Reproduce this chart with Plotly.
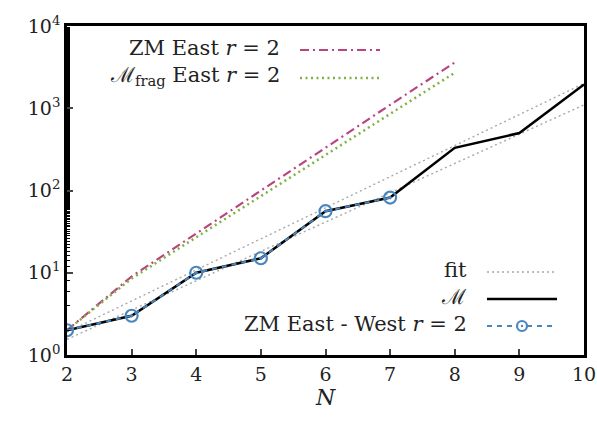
import plotly.graph_objects as go

N_all = [2, 3, 4, 5, 6, 7, 8, 9, 10]
N_east = [2, 3, 4, 5, 6, 7, 8]
N_ew = [2, 3, 4, 5, 6, 7]

zm_east = [2, 9, 30, 100, 330, 1100, 3600]
mfrag_east = [2, 8.5, 27, 85, 270, 860, 2700]
M_vals = [2, 3, 10, 15, 56, 82, 330, 500, 1950]
zm_ew = [2, 3, 10, 15, 56, 82]
fit_N = [2, 10]
fit_upper = [1.9, 2000]
fit_lower = [1.55, 1100]

y_tickvals = [1, 10, 100, 1000, 10000]
y_ticktext = ["10<sup>0</sup>", "10<sup>1</sup>", "10<sup>2</sup>", "10<sup>3</sup>", "10<sup>4</sup>"]
x_tickvals = [2, 3, 4, 5, 6, 7, 8, 9, 10]

MAG = "#b8457e"
GRN = "#7fb241"
BLU = "#4a86bd"
GRY = "#a8a8a8"
FONT = "DejaVu Serif"
FS = 21
TFS = 19

fig = go.Figure()
fig.add_trace(go.Scatter(x=fit_N, y=fit_upper, mode="lines",
                         line=dict(color=GRY, width=1.4, dash="2px,3px")))
fig.add_trace(go.Scatter(x=fit_N, y=fit_lower, mode="lines",
                         line=dict(color=GRY, width=1.4, dash="2px,3px")))
fig.add_trace(go.Scatter(x=N_east, y=zm_east, mode="lines",
                         line=dict(color=MAG, width=2.2, dash="9px,4px,2px,4px")))
fig.add_trace(go.Scatter(x=N_east, y=mfrag_east, mode="lines",
                         line=dict(color=GRN, width=2.5, dash="2px,3.5px")))
fig.add_trace(go.Scatter(x=N_all, y=M_vals, mode="lines",
                         line=dict(color="black", width=2.5)))
fig.add_trace(go.Scatter(x=N_ew, y=zm_ew, mode="lines+markers",
                         line=dict(color=BLU, width=2, dash="5px,5px"),
                         marker=dict(symbol="circle-open-dot", size=12,
                                     color=BLU, line=dict(width=2.2, color=BLU))))

W, H = 597, 424
ML, MR, MT, MB = 67, 13, 26, 69
PL, PR, PT, PB = ML, W - MR, MT, H - MB
def px(x):
    return (x - PL) / (PR - PL)
def py(y):
    return (PB - y) / (PB - PT)

ann = []
shapes = []
def entry(text, ytxt, x_right, x0, x1, dash, color, width):
    ann.append(dict(x=px(x_right), y=py(ytxt), xref="paper", yref="paper",
                    text=text, showarrow=False, xanchor="right", yanchor="middle",
                    font=dict(family=FONT, size=FS, color="#222")))
    shapes.append(dict(type="line", xref="paper", yref="paper",
                       x0=px(x0), x1=px(x1), y0=py(ytxt + 2), y1=py(ytxt + 2),
                       line=dict(color=color, width=width, dash=dash)))

entry("ZM East <i>r</i> = 2", 48, 282, 300, 380, "9px,4px,2px,4px", MAG, 2.2)
entry("ℳ<sub>frag</sub> East <i>r</i> = 2", 76, 282, 300, 380, "2px,3.5px", GRN, 2.5)
entry("fit", 270, 469, 487, 557, "2px,3px", GRY, 1.4)
entry("ℳ", 297, 469, 487, 557, "solid", "black", 2.5)
entry("ZM East - West <i>r</i> = 2", 324, 469, 487, 557, "5px,5px", BLU, 2)
cx, cy = 522, 326
shapes.append(dict(type="circle", xref="paper", yref="paper",
                   x0=px(cx - 5), x1=px(cx + 5), y0=py(cy + 5), y1=py(cy - 5),
                   fillcolor="white", line=dict(color=BLU, width=2.2)))
shapes.append(dict(type="circle", xref="paper", yref="paper",
                   x0=px(cx - 1.2), x1=px(cx + 1.2), y0=py(cy + 1.2), y1=py(cy - 1.2),
                   fillcolor=BLU, line=dict(color=BLU, width=0)))

fig.update_layout(
    width=W, height=H, autosize=False,
    margin=dict(l=ML, r=MR, t=MT, b=MB),
    plot_bgcolor="white", paper_bgcolor="white",
    showlegend=False,
    font=dict(family=FONT, size=FS, color="#222"),
    annotations=ann, shapes=shapes,
    xaxis=dict(range=[2, 10], tickvals=x_tickvals, ticks="inside", ticklen=6,
               tickwidth=1.5, showline=True, linewidth=2.5, linecolor="black",
               mirror=True, showgrid=False, zeroline=False, automargin=False,
               ticklabeloverflow="allow",
               title=dict(text="<i>N</i>", standoff=6, font=dict(family=FONT, size=22)),
               tickfont=dict(family=FONT, size=TFS)),
    yaxis=dict(type="log", range=[0, 4], tickvals=y_tickvals, ticktext=y_ticktext,
               ticks="inside", ticklen=6, tickwidth=1.5, showline=True, linewidth=2.5,
               linecolor="black", mirror=True, showgrid=False, zeroline=False,
               automargin=False, ticklabeloverflow="allow",
               tickfont=dict(family=FONT, size=TFS),
               minor=dict(ticks="inside", ticklen=3, tickwidth=1, showgrid=False,
                          tickcolor="black")),
)

fig.write_html("out.html", config={"responsive": False})
